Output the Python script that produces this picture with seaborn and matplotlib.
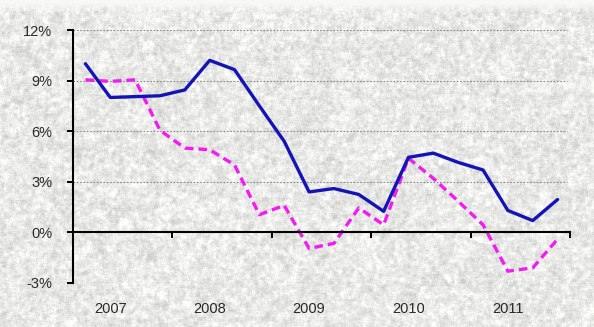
import numpy as np
import pandas as pd
import matplotlib
matplotlib.use("Agg")
import matplotlib.pyplot as plt
import seaborn as sns

# Quarterly series, 2007 Q1 - 2011 Q4 (percent)
quarters = [f"{y}Q{q}" for y in range(2007, 2012) for q in range(1, 5)]
blue_values = [10.0, 8.0, 8.05, 8.1, 8.45, 10.2, 9.65, 7.5,
               5.4, 2.4, 2.6, 2.25, 1.25, 4.45, 4.7, 4.15,
               3.7, 1.3, 0.7, 1.95]
magenta_values = [9.05, 8.95, 9.05, 6.05, 5.0, 4.9, 4.0, 1.05,
                  1.6, -0.95, -0.65, 1.45, 0.45, 4.4, 3.2, 1.85,
                  0.45, -2.3, -2.1, -0.4]
year_labels = ["2007", "2008", "2009", "2010", "2011"]
y_ticks = [-3, 0, 3, 6, 9, 12]
y_tick_labels = ["-3%", "0%", "3%", "6%", "9%", "12%"]

df = pd.DataFrame({
    "idx": np.arange(len(quarters)),
    "quarter": quarters,
    "blue": blue_values,
    "magenta": magenta_values,
})

sns.set_theme(style="white")
plt.rcParams["font.family"] = ["Liberation Sans", "DejaVu Sans"]

W, H = 594, 327
fig = plt.figure(figsize=(W / 100, H / 100), dpi=100)

# Soft granite-like paper texture behind everything
def box_blur(a, r):
    k = np.ones(2 * r + 1) / (2 * r + 1)
    a = np.apply_along_axis(lambda v: np.convolve(np.pad(v, r, mode="wrap"), k, "valid"), 0, a)
    a = np.apply_along_axis(lambda v: np.convolve(np.pad(v, r, mode="wrap"), k, "valid"), 1, a)
    return a

rng = np.random.default_rng(11)
tex = np.zeros((H, W))
for r, amp in [(0, 0.012), (1, 0.022), (2, 0.025), (5, 0.015)]:
    n = rng.standard_normal((H, W))
    if r:
        n = box_blur(n, r)
        n /= n.std()
    tex += amp * n
base = 0.915
gray = np.clip(base + tex, 0.8, 1.0)
# lighter strip along the top edge
fade = np.clip((np.arange(H) - 2) / 10.0, 0, 1)[:, None]
gray = gray * fade + 0.975 * (1 - fade)
rgb = np.dstack([gray, gray, gray * 0.99])

ax_bg = fig.add_axes([0, 0, 1, 1], zorder=0)
ax_bg.imshow(rgb, aspect="auto", interpolation="bilinear")
ax_bg.axis("off")

left, right = 73 / W, 570 / W
bottom, top = 1 - 283 / H, 1 - 30 / H
ax = fig.add_axes([left, bottom, right - left, top - bottom], zorder=1)
ax.set_facecolor("none")

sns.lineplot(data=df, x="idx", y="blue", ax=ax, color="#1414b4",
             linewidth=2.4, zorder=4)
sns.lineplot(data=df, x="idx", y="magenta", ax=ax, color="#f21cf2",
             linewidth=2.4, linestyle=(0, (2.6, 1.5)), zorder=3)

ax.set_xlim(-0.5, len(quarters) - 0.5)
ax.set_ylim(-3, 12)
ax.set_xlabel("")
ax.set_ylabel("")

# y axis
ax.set_yticks(y_ticks)
ax.set_yticklabels(y_tick_labels, fontsize=10.5, color="#2a2a2a")
ax.tick_params(axis="y", direction="out", length=4.5, width=1.4,
               color="black", pad=10.5, left=True)

# x axis sits at zero, with year separators
ax.spines["bottom"].set_position(("data", 0))
year_bounds = [4 * i + 3.5 for i in range(len(year_labels))]
ax.set_xticks(year_bounds)
ax.set_xticklabels([])
ax.tick_params(axis="x", direction="out", length=4.5, width=1.4,
               color="black", bottom=True)
for i, lab in enumerate(year_labels):
    ax.text(4 * i + 1, -0.103, lab, transform=ax.get_xaxis_transform(),
            ha="center", va="center", fontsize=10.5, color="#2a2a2a")

for side in ["top", "right"]:
    ax.spines[side].set_visible(False)
for side in ["left", "bottom"]:
    ax.spines[side].set_color("black")
    ax.spines[side].set_linewidth(1.5)
    ax.spines[side].set_zorder(5)

# dotted gridlines
for yv in y_ticks:
    if yv != 0:
        ax.axhline(yv, xmin=0, xmax=0.994, color="#8a8a8a",
                   linewidth=0.8, linestyle=(0, (1.5, 1.5)), zorder=1)
ax.grid(False)

fig.savefig("out.png", dpi=100)
